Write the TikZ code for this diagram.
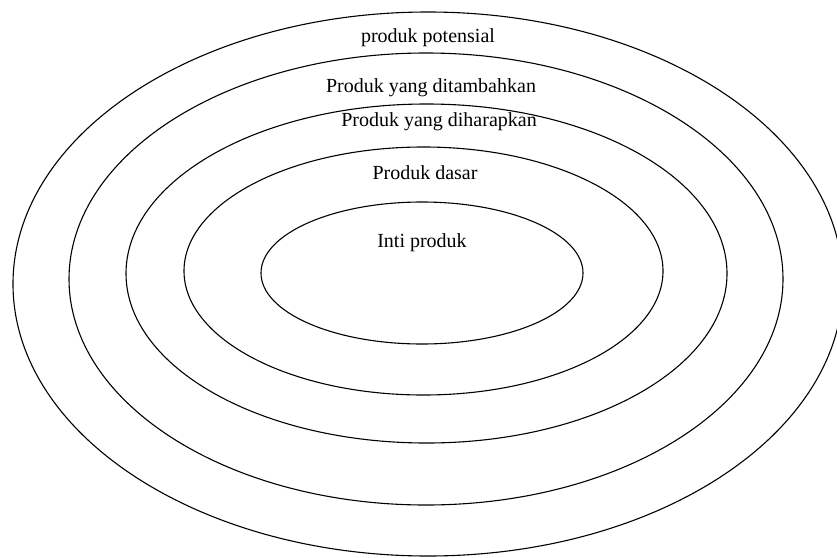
\documentclass[tikz,border=0pt]{standalone}
\usepackage{fontspec}
\setmainfont{Liberation Serif}
\usetikzlibrary{shapes.geometric}

\begin{document}
\begin{tikzpicture}[x=1pt,y=-1pt,
    ring/.style={ellipse,draw,line width=1.1pt,inner sep=0},
    ringtext/.style={font=\fontsize{20}{24}\selectfont,inner sep=0}]

    \useasboundingbox (0,0) rectangle (837,557);

    \node[ring,minimum width=830pt,minimum height=544pt] (potensial) at (428,284) {};
    \node[ring,minimum width=714pt,minimum height=452pt] (tambah) at (426,279) {};
    \node[ring,minimum width=601pt,minimum height=339pt] (harap) at (426.5,273.5) {};
    \node[ring,minimum width=479pt,minimum height=248pt] (dasar) at (423.5,271) {};
    \node[ring,minimum width=322pt,minimum height=142pt] (inti) at (422,273) {};

    \node[ringtext] (tpotensial) at (428,38) {produk potensial};
    \node[ringtext] (ttambah) at (431,88) {Produk yang ditambahkan};
    \node[ringtext] (tharap) at (439,122) {Produk yang diharapkan};
    \node[ringtext] (tdasar) at (425,173) {Produk dasar};
    \node[ringtext] (tinti) at (422,243) {Inti produk};
\end{tikzpicture}
\end{document}
